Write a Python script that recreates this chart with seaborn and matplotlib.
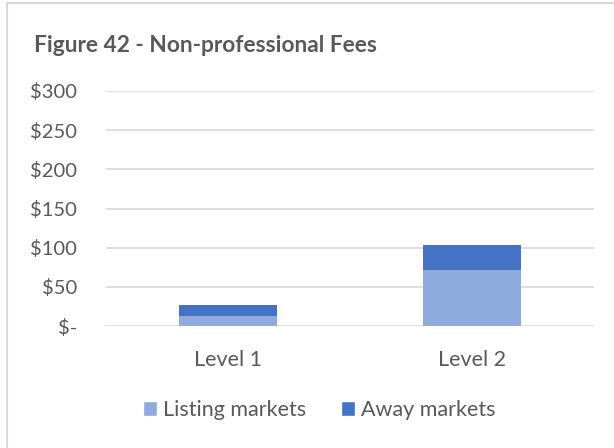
import pandas as pd
import numpy as np
import matplotlib.pyplot as plt
import seaborn as sns
from matplotlib.lines import Line2D
from matplotlib.patches import Patch
from matplotlib.ticker import FuncFormatter

# values
levels = ["Level 1", "Level 2"]
listing_markets = [13, 71]
away_markets = [13.5, 32]
series_names = ["Listing markets", "Away markets"]
yticks = [0, 50, 100, 150, 200, 250, 300]

data = pd.DataFrame({"level": levels, "listing": listing_markets, "away": away_markets})
data["total"] = data["listing"] + data["away"]

sns.set_style("white")
plt.rcParams['font.family'] = ['Lato', 'DejaVu Sans']
text_color = "#595959"
grid_color = "#D9D9D9"
c_listing = "#8FAADC"
c_away = "#4472C4"

fig = plt.figure(figsize=(6.14, 4.48), dpi=100)
ax = fig.add_axes([106 / 614, 1 - 326 / 448, 488 / 614, 235 / 448])

# stacked bars: total first (away colour), then listing on top of it
sns.barplot(data=data, x="level", y="total", color=c_away, width=0.4,
            saturation=1, linewidth=0, ax=ax, zorder=3)
sns.barplot(data=data, x="level", y="listing", color=c_listing, width=0.4,
            saturation=1, linewidth=0, ax=ax, zorder=4)

ax.set_ylim(0, 300)
ax.set_yticks(yticks)
ax.yaxis.set_major_formatter(FuncFormatter(lambda v, p: "$-" if v == 0 else f"${v:.0f}"))
ax.set_xlabel("")
ax.set_ylabel("")
ax.grid(axis="y", color=grid_color, linewidth=1.2, zorder=0)
ax.set_axisbelow(True)
for s in ax.spines.values():
    s.set_visible(False)
ax.tick_params(axis="y", length=0, pad=21, labelsize=14.5, labelcolor=text_color)
ax.tick_params(axis="x", length=0, pad=17, labelsize=15.5, labelcolor=text_color)

fig.text(34 / 614, 1 - 46 / 448, "Figure 42 - Non-professional Fees", fontsize=16.4,
         fontweight="bold", color=text_color, ha="left", va="center")

handles = [Patch(facecolor=c_listing), Patch(facecolor=c_away)]
fig.legend(handles, series_names, loc="center", bbox_to_anchor=(319 / 614, 1 - 410 / 448),
           ncol=2, frameon=False, fontsize=15.5, labelcolor=text_color,
           handlelength=0.65, handleheight=0.65, handletextpad=0.3, columnspacing=1.6)

# chart area frame (only left and top edges are visible)
fig.add_artist(Line2D([6.5 / 614, 6.5 / 614], [0, 1 - 3.5 / 448], color=grid_color,
                      linewidth=1.5, transform=fig.transFigure))
fig.add_artist(Line2D([6.5 / 614, 1], [1 - 3.5 / 448, 1 - 3.5 / 448], color=grid_color,
                      linewidth=1.5, transform=fig.transFigure))

fig.savefig("out.png", dpi=100)
